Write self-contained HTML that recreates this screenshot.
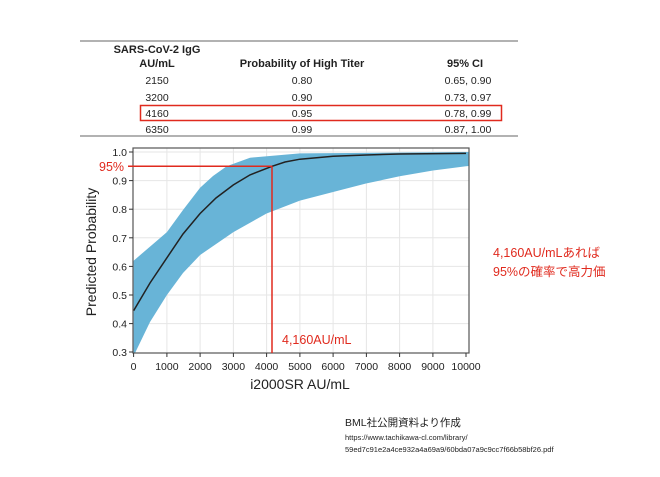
<!DOCTYPE html>
<html><head><meta charset="utf-8"><style>
body{margin:0;background:#fff;width:660px;height:477px;overflow:hidden}
svg{display:block}
text{font-family:"Liberation Sans","Noto Sans CJK JP",sans-serif}
</style></head><body>
<svg width="660" height="477" viewBox="0 0 660 477">
<line x1="80" y1="41" x2="518" y2="41" stroke="#999" stroke-width="1.5"/>
<line x1="80" y1="136" x2="518" y2="136" stroke="#999" stroke-width="1.5"/>
<g font-size="11" font-weight="bold" fill="#222" text-anchor="middle">
<text x="157" y="53">SARS-CoV-2 IgG</text>
<text x="157" y="67">AU/mL</text>
<text x="302" y="67">Probability of High Titer</text>
<text x="465" y="67">95% CI</text>
</g>
<g font-size="10.5" fill="#222" text-anchor="middle">
<text x="157" y="84">2150</text><text x="302" y="84">0.80</text><text x="468" y="84">0.65, 0.90</text>
<text x="157" y="101">3200</text><text x="302" y="101">0.90</text><text x="468" y="101">0.73, 0.97</text>
<text x="157" y="117">4160</text><text x="302" y="117">0.95</text><text x="468" y="117">0.78, 0.99</text>
<text x="157" y="133">6350</text><text x="302" y="133">0.99</text><text x="468" y="133">0.87, 1.00</text>
</g>
<rect x="140.5" y="105.5" width="361" height="15" fill="none" stroke="#e02a1e" stroke-width="1.5"/>
<g stroke="#e6e6e6" stroke-width="1">
<line x1="166.9" y1="148" x2="166.9" y2="353"/><line x1="200.1" y1="148" x2="200.1" y2="353"/>
<line x1="233.4" y1="148" x2="233.4" y2="353"/><line x1="266.6" y1="148" x2="266.6" y2="353"/>
<line x1="299.9" y1="148" x2="299.9" y2="353"/><line x1="333.1" y1="148" x2="333.1" y2="353"/>
<line x1="366.4" y1="148" x2="366.4" y2="353"/><line x1="399.6" y1="148" x2="399.6" y2="353"/>
<line x1="432.9" y1="148" x2="432.9" y2="353"/>
<line x1="133" y1="180.6" x2="469" y2="180.6"/><line x1="133" y1="209.2" x2="469" y2="209.2"/>
<line x1="133" y1="237.8" x2="469" y2="237.8"/><line x1="133" y1="266.4" x2="469" y2="266.4"/>
<line x1="133" y1="295" x2="469" y2="295"/><line x1="133" y1="323.6" x2="469" y2="323.6"/>
<line x1="133" y1="152" x2="469" y2="152"/>
</g>
<clipPath id="c"><rect x="133" y="148" width="336" height="205"/></clipPath>
<path clip-path="url(#c)" fill="#68b4d7" d="M133.6,260.7 L156.9,240.7 L166.9,232.1 L183,210 L200.1,187.8 L213,176 L226.7,166.3 L250,157.7 L299.9,153.4 L466,152 L469,152 L469,166 L466,166.3 L433,170.5 L399.6,176.3 L366,183.5 L333.1,192 L299.9,200.6 L266.6,213.5 L233.4,232.1 L200.1,255 L183,273 L166.9,295 L150,322 L133.6,356 Z"/>
<path clip-path="url(#c)" fill="none" stroke="#222" stroke-width="1.5" d="M133.6,310.7 L150,283 L166.9,257.8 L183,234 L200.1,213.5 L216,198 L233.4,184.9 L250,174.9 L272,166.3 L285,162 L299.9,159.2 L333.1,156.3 L366,155 L399.6,154 L466,153.4"/>
<rect x="133" y="148" width="336" height="205" fill="none" stroke="#555" stroke-width="1.2"/>
<g stroke="#333" stroke-width="1">
<line x1="133.6" y1="353" x2="133.6" y2="357"/><line x1="166.9" y1="353" x2="166.9" y2="357"/><line x1="200.1" y1="353" x2="200.1" y2="357"/><line x1="233.4" y1="353" x2="233.4" y2="357"/><line x1="266.6" y1="353" x2="266.6" y2="357"/><line x1="299.9" y1="353" x2="299.9" y2="357"/><line x1="333.1" y1="353" x2="333.1" y2="357"/><line x1="366.4" y1="353" x2="366.4" y2="357"/><line x1="399.6" y1="353" x2="399.6" y2="357"/><line x1="432.9" y1="353" x2="432.9" y2="357"/><line x1="466" y1="353" x2="466" y2="357"/>
<line x1="129" y1="152" x2="133" y2="152"/><line x1="129" y1="180.6" x2="133" y2="180.6"/><line x1="129" y1="209.2" x2="133" y2="209.2"/><line x1="129" y1="237.8" x2="133" y2="237.8"/><line x1="129" y1="266.4" x2="133" y2="266.4"/><line x1="129" y1="295" x2="133" y2="295"/><line x1="129" y1="323.6" x2="133" y2="323.6"/><line x1="129" y1="352" x2="133" y2="352"/>
</g>
<g font-size="10.5" fill="#222" text-anchor="middle">
<text x="133.6" y="370">0</text><text x="166.9" y="370">1000</text><text x="200.1" y="370">2000</text><text x="233.4" y="370">3000</text><text x="266.6" y="370">4000</text><text x="299.9" y="370">5000</text><text x="333.1" y="370">6000</text><text x="366.4" y="370">7000</text><text x="399.6" y="370">8000</text><text x="432.9" y="370">9000</text><text x="466" y="370">10000</text>
</g>
<g font-size="10.5" fill="#222" text-anchor="end">
<text x="127" y="156">1.0</text><text x="127" y="184.6">0.9</text><text x="127" y="213.2">0.8</text><text x="127" y="241.8">0.7</text><text x="127" y="270.4">0.6</text><text x="127" y="299">0.5</text><text x="127" y="327.6">0.4</text><text x="127" y="356">0.3</text>
</g>
<text x="300" y="389" font-size="14" fill="#222" text-anchor="middle">i2000SR AU/mL</text>
<text transform="translate(96,252) rotate(-90)" font-size="14" fill="#222" text-anchor="middle">Predicted Probability</text>
<line x1="128" y1="166.3" x2="272" y2="166.3" stroke="#e02a1e" stroke-width="1.5"/>
<line x1="272" y1="166.3" x2="272" y2="353" stroke="#e02a1e" stroke-width="1.5"/>
<text x="99" y="171" font-size="12.5" fill="#e02a1e">95%</text>
<text x="282" y="344" font-size="12.5" fill="#e02a1e">4,160AU/mL</text>
<text x="493" y="257" font-size="12.5" fill="#e02a1e">4,160AU/mLあれば</text>
<text x="493" y="276" font-size="12.5" fill="#e02a1e">95%の確率で高力価</text>
<text x="345" y="426" font-size="10.5" fill="#222">BML社公開資料より作成</text>
<text x="345" y="440" font-size="7.5" fill="#222">https://www.tachikawa-cl.com/library/</text>
<text x="345" y="452" font-size="7.5" fill="#222">59ed7c91e2a4ce932a4a69a9/60bda07a9c9cc7f66b58bf26.pdf</text>
</svg>
</body></html>
